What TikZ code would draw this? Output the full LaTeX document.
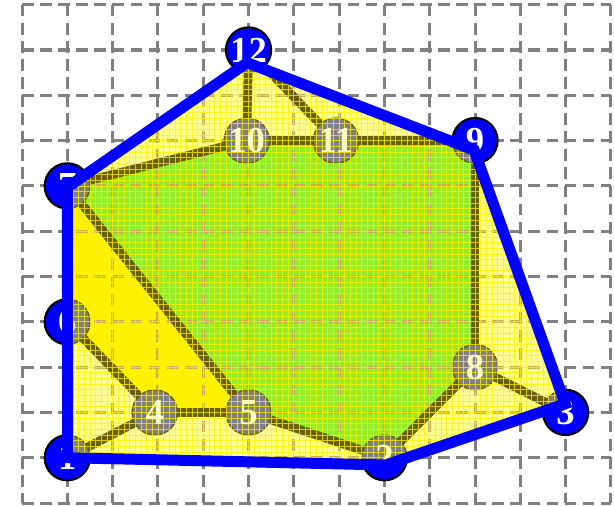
\documentclass[tikz,border=0pt]{standalone}
\usepackage{fontspec}
\setmainfont{Liberation Serif}
\begin{document}
\begin{tikzpicture}[x=1cm,y=1cm]
\definecolor{edgecol}{RGB}{105,95,5}
\definecolor{lyellow}{RGB}{255,255,145}
\definecolor{lgreen}{RGB}{150,236,40}
\definecolor{gridtan}{RGB}{195,172,85}
\definecolor{nodegray}{RGB}{128,128,128}
\definecolor{labyellow}{RGB}{255,255,190}
\tikzset{
  gridline/.style={draw=gray, line width=1.9pt, dash pattern=on 7.4pt off 3.96pt},
  innergrid/.style={draw=gridtan, line width=1.9pt, dash pattern=on 7.4pt off 3.96pt},
  labelfont/.style={font=\fontsize{23}{23}\selectfont\bfseries},
  hullnode/.style={circle, fill=blue, draw=black, line width=1.3pt, minimum size=1.0cm, inner sep=0pt, text=white, labelfont},
  graynode/.style={circle, fill=nodegray, draw=edgecol, line width=0.8pt, minimum size=1.0cm, inner sep=0pt},
  graylabel/.style={text=labyellow, labelfont, inner sep=0pt},
  graphedge/.style={draw=edgecol, line width=5.5pt},
  hullline/.style={draw=blue, line width=6.9pt, line join=miter},
  finegrid/.style={draw=yellow, line width=0.45pt, draw opacity=0.75}
}
\useasboundingbox (-0.486,-0.044) rectangle (13.068,11.104);

% background dashed grid
\foreach \x in {0,...,13} \draw[gridline] (\x,11) -- (\x,0);
\foreach \y in {0,...,11} \draw[gridline] (0,\y) -- (13,\y);

% vertex positions
\coordinate (c1) at (1,1);
\coordinate (c2) at (8,1);
\coordinate (c3) at (12,2);
\coordinate (c4) at (2.93,2);
\coordinate (c5) at (5,2);
\coordinate (c6) at (1,4);
\coordinate (c7) at (1,7);
\coordinate (c8) at (10,3);
\coordinate (c9) at (10,8);
\coordinate (c10) at (4.96,8);
\coordinate (c11) at (6.93,8);
\coordinate (c12) at (5,10);

% hull polygon corners
\coordinate (h1) at (1.01,1.0);
\coordinate (h2) at (8.03,0.84);
\coordinate (h3) at (11.99,2.19);
\coordinate (h9) at (9.98,7.79);
\coordinate (h12) at (4.97,9.72);
\coordinate (h7) at (1.0,6.97);

% blue hull nodes
\node[hullnode] (b1) at (c1) {1};
\node[hullnode] (b2) at (c2) {2};
\node[hullnode] (b3) at (c3) {3};
\node[hullnode] (b6) at (c6) {6};
\node[hullnode] (b7) at (c7) {7};
\node[hullnode] (b9) at (c9) {9};
\node[hullnode] (b12) at (c12) {12};

\begin{scope}
  \clip (h1) -- (h2) -- (h3) -- (h9) -- (h12) -- (h7) -- cycle;
  \fill[lyellow] (-1,-1) rectangle (14,12);
  \fill[lgreen] (c7) -- (c10) -- (c11) -- (c9) -- (c8) -- (c2) -- (c5) -- cycle;
  \fill[yellow] (c7) -- (c5) -- (c4) -- (c6) -- cycle;
  \foreach \x in {0,...,13} \draw[innergrid] (\x,11) -- (\x,0);
  \foreach \y in {0,...,11} \draw[innergrid] (0,\y) -- (13,\y);
  % graph edges
  \draw[graphedge] (c12) -- (c10);
  \draw[graphedge] (c12) -- (c11);
  \draw[graphedge] (c10) -- (c11);
  \draw[graphedge] (c11) -- (c9);
  \draw[graphedge] (c7) -- (c10);
  \draw[graphedge] (c9) -- (c8);
  \draw[graphedge] (c8) -- (c3);
  \draw[graphedge] (c8) -- (c2);
  \draw[graphedge] (c7) -- (c5);
  \draw[graphedge] (c6) -- (c4);
  \draw[graphedge] (c4) -- (c5);
  \draw[graphedge] (c4) -- (c1);
  \draw[graphedge] (c5) -- (c2);
  % gray nodes
  \foreach \i in {1,...,12} \node[graynode] (n\i) at (c\i) {};
  % fine overlay grid
  \draw[finegrid] (0,0) grid[step=0.125] (13,11);
  % labels of gray nodes
  \foreach \i in {1,...,12} \node[graylabel] (t\i) at (c\i) {\i};
\end{scope}

\draw[hullline] (h1) -- (h2) -- (h3) -- (h9) -- (h12) -- (h7) -- cycle;
\end{tikzpicture}
\end{document}
